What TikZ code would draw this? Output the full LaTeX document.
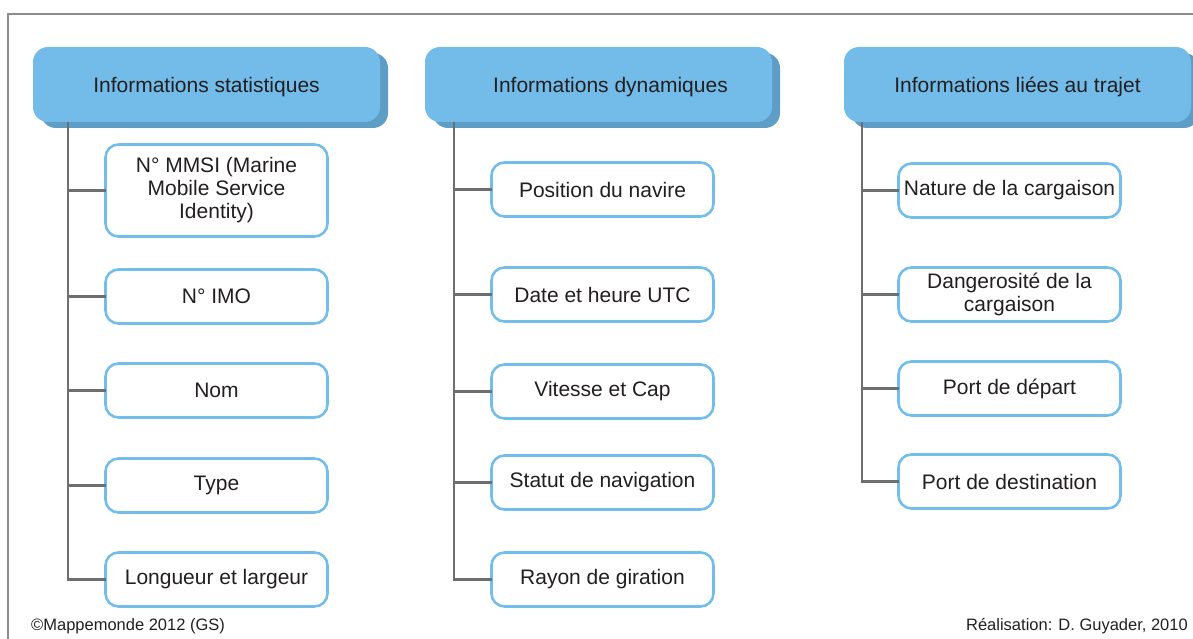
\documentclass[tikz,border=0pt]{standalone}
\usepackage{fontspec}
\setmainfont{Liberation Sans}
\usetikzlibrary{positioning,shadows,calc}
\definecolor{headblue}{RGB}{115,188,233}
\definecolor{shadeblue}{RGB}{94,157,198}
\definecolor{itemblue}{RGB}{114,189,234}
\definecolor{trunkgray}{RGB}{109,110,112}
\definecolor{framegray}{RGB}{140,140,140}
\definecolor{inkdark}{RGB}{35,31,32}

\begin{document}
\begin{tikzpicture}[
    x=1pt, y=-1pt,
    font=\fontsize{21}{23}\selectfont, text=inkdark,
    header/.style={rectangle, rounded corners=15pt, fill=headblue, minimum width=347pt, minimum height=75pt, text depth=0pt, align=center, outer sep=0pt, drop shadow={shadow xshift=8pt, shadow yshift=-6pt, fill=shadeblue, opacity=1}},
    item/.style={rectangle, rounded corners=13pt, draw=itemblue, line width=2.6pt, fill=white, minimum width=222pt, minimum height=54pt, align=center, inner sep=2pt, outer sep=0pt},
    trunk/.style={draw=trunkgray, line width=2.4pt},
    credit/.style={font=\fontsize{16.5}{18}\selectfont, inner sep=0pt}
  ]
    \useasboundingbox (0,0) rectangle (1193,639);
    \draw[framegray, line width=1.5pt] (1193,14) -- (8,14) -- (8,639);

    % column headers
    \node[header] (stat) at (206.5,84.5) {Informations statistiques};
    \node[header, right=45pt of stat] (dyn) {\hspace*{24pt}Informations dynamiques};
    \node[header, right=72pt of dyn] (trajet) {Informations liées au trajet};

    % static data
    \node[item, minimum height=92pt, below right=22.5pt and 72.5pt of stat.south west] (mmsi) {N° MMSI (Marine\\Mobile Service\\Identity)};
    \node[item, below=33pt of mmsi] (imo) {N° IMO};
    \node[item, below=40pt of imo] (nom) {Nom};
    \node[item, below=41pt of nom] (typ) {Type};
    \node[item, below=40pt of typ] (dims) {Longueur et largeur};

    % dynamic data
    \node[item, below right=40.5pt and 66.5pt of dyn.south west] (pos) {Position du navire};
    \node[item, below=51pt of pos] (date) {Date et heure UTC};
    \node[item, below=43pt of date] (vitesse) {Vitesse et Cap};
    \node[item, below=37pt of vitesse] (statut) {Statut de navigation};
    \node[item, below=43pt of statut] (rayon) {Rayon de giration};

    % voyage data
    \node[item, below right=41.5pt and 54.5pt of trajet.south west] (nature) {Nature de la cargaison};
    \node[item, below=50pt of nature] (danger) {Dangerosité de la\\cargaison};
    \node[item, below=40pt of danger] (depart) {Port de départ};
    \node[item, below=39pt of depart] (dest) {Port de destination};

    % trunks and branches
    \coordinate (t1) at ($(stat.south west)+(35,0)$);
    \coordinate (t2) at ($(dyn.south west)+(29,0)$);
    \coordinate (t3) at ($(trajet.south west)+(18,0)$);
    \draw[trunk] (t1) |- (dims.west);
    \foreach \c in {mmsi,imo,nom,typ}
      \draw[trunk] (t1 |- \c.west) -- (\c.west);
    \draw[trunk] (t2) |- (rayon.west);
    \foreach \c in {pos,date,vitesse,statut}
      \draw[trunk] (t2 |- \c.west) -- (\c.west);
    \draw[trunk] (t3) |- (dest.west);
    \foreach \c in {nature,danger,depart}
      \draw[trunk] (t3 |- \c.west) -- (\c.west);

    \node[credit, anchor=west] (copy) at (31,626) {©Mappemonde 2012 (GS)};
    \node[credit, anchor=east] (realis) at (1188,626) {Réalisation: D. Guyader, 2010};
  \end{tikzpicture}
\end{document}
